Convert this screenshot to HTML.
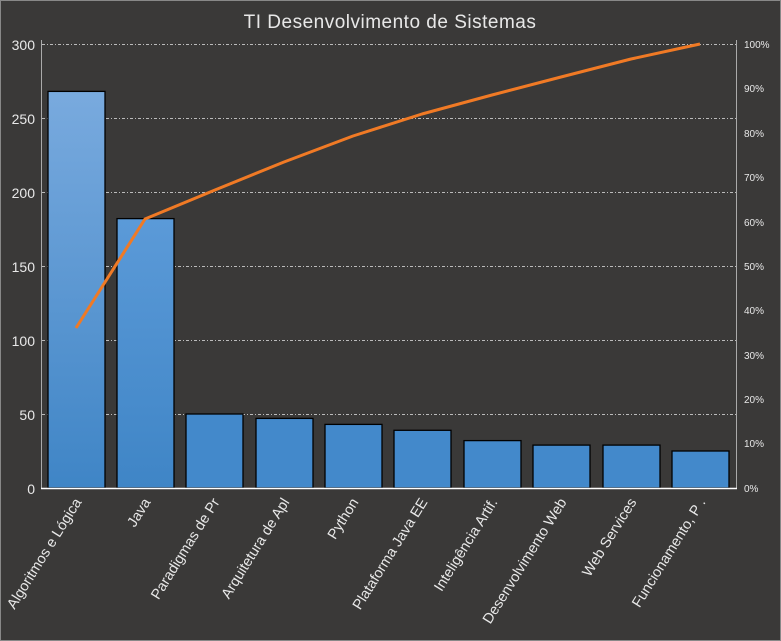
<!DOCTYPE html><html><head><style>body{margin:0;background:#3a3938}svg{display:block}text{font-family:"Liberation Sans",sans-serif;fill:#e8e8e8}</style></head><body>
<svg width="781" height="641" viewBox="0 0 781 641">
<defs><linearGradient id="g" x1="0" y1="0" x2="0" y2="1"><stop offset="0" stop-color="#79aade"/><stop offset="1" stop-color="#3f85c6"/></linearGradient>
<linearGradient id="g2" x1="0" y1="0" x2="0" y2="1"><stop offset="0" stop-color="#5b9ad8"/><stop offset="1" stop-color="#3f85c6"/></linearGradient></defs>
<rect x="0.5" y="0.5" width="780" height="640" fill="#3a3938" stroke="#888"/>
<text x="390" y="28" font-size="19" text-anchor="middle" letter-spacing="0.5">TI Desenvolvimento  de Sistemas</text>
<g stroke="#bbb" stroke-dasharray="3,2,1,2" stroke-width="1">
<line x1="42" y1="44.5" x2="736" y2="44.5"/><line x1="42" y1="118.5" x2="736" y2="118.5"/><line x1="42" y1="192.5" x2="736" y2="192.5"/><line x1="42" y1="266.5" x2="736" y2="266.5"/><line x1="42" y1="340.5" x2="736" y2="340.5"/><line x1="42" y1="414.5" x2="736" y2="414.5"/></g>
<line x1="41.5" y1="40" x2="41.5" y2="489" stroke="#aaa"/>
<line x1="736.5" y1="40" x2="736.5" y2="489" stroke="#aaa"/>
<g stroke="#000" stroke-width="1.3">
<rect x="48" y="91.4" width="57" height="396.6" fill="url(#g)"/>
<rect x="117" y="218.6" width="57" height="269.4" fill="url(#g2)"/>
<rect x="186" y="414" width="57" height="74" fill="#4389cb"/>
<rect x="256" y="418.4" width="57" height="69.6" fill="#4389cb"/>
<rect x="325" y="424.4" width="57" height="63.6" fill="#4389cb"/>
<rect x="394" y="430.3" width="57" height="57.7" fill="#4389cb"/>
<rect x="464" y="440.6" width="57" height="47.4" fill="#4389cb"/>
<rect x="533" y="445.1" width="57" height="42.9" fill="#4389cb"/>
<rect x="603" y="445.1" width="57" height="42.9" fill="#4389cb"/>
<rect x="672" y="451" width="57" height="37" fill="#4389cb"/></g>
<line x1="41" y1="488.5" x2="737" y2="488.5" stroke="#fff" stroke-width="1.5"/>
<polyline fill="none" stroke="#f07a25" stroke-width="3" stroke-linejoin="round" points="76,328 145,219 215,190 284,162 353,136 422,114 492,95 561,77 631,59 700,44"/>
<g font-size="14" text-anchor="end"><text x="35" y="50">300</text><text x="35" y="124">250</text><text x="35" y="198">200</text><text x="35" y="272">150</text><text x="35" y="346">100</text><text x="35" y="420">50</text><text x="35" y="494">0</text></g>
<g font-size="10"><text x="744" y="48">100%</text><text x="744" y="92">90%</text><text x="744" y="137">80%</text><text x="744" y="181">70%</text><text x="744" y="226">60%</text><text x="744" y="270">50%</text><text x="744" y="314">40%</text><text x="744" y="359">30%</text><text x="744" y="403">20%</text><text x="744" y="447">10%</text><text x="744" y="492">0%</text></g>
<g font-size="14.5" text-anchor="end">
<text transform="translate(82,502) rotate(-58)">Algoritmos e Lógica</text>
<text transform="translate(151,502) rotate(-58)">Java</text>
<text transform="translate(220,502) rotate(-58)">Paradigmas de Pr</text>
<text transform="translate(290,502) rotate(-58)">Arquitetura de Apl</text>
<text transform="translate(359,502) rotate(-58)">Python</text>
<text transform="translate(428,502) rotate(-58)">Plataforma Java EE</text>
<text transform="translate(498,502) rotate(-58)">Inteligência Artif.</text>
<text transform="translate(567,502) rotate(-58)">Desenvolvimento Web</text>
<text transform="translate(637,502) rotate(-58)">Web Services</text>
<text transform="translate(706,502) rotate(-58)">Funcionamento, P .</text></g>
</svg></body></html>
